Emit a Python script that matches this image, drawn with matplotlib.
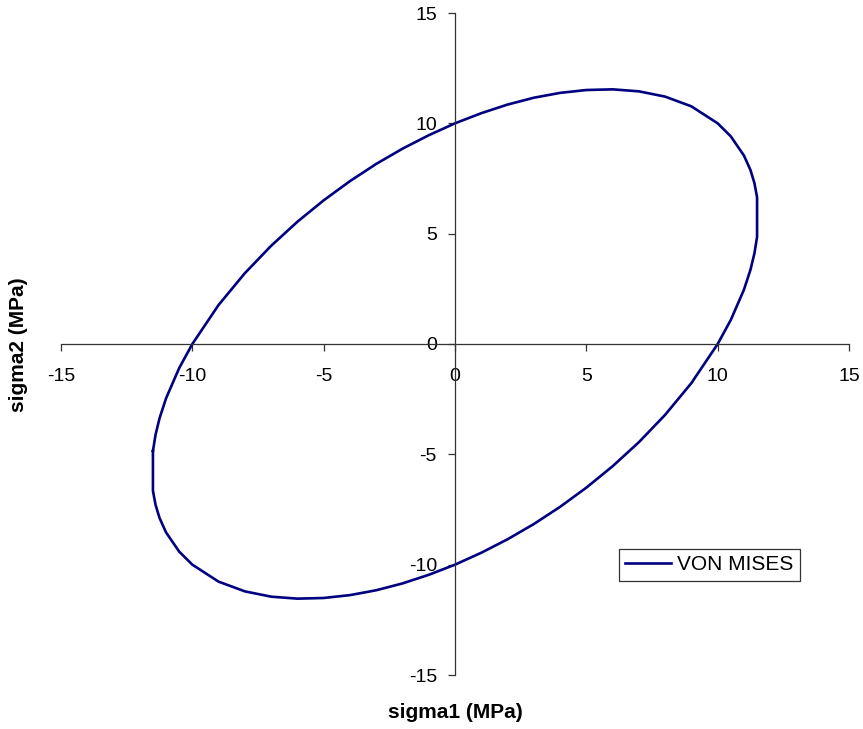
import matplotlib
matplotlib.use("Agg")
import matplotlib.pyplot as plt

plt.rcParams["font.family"] = ["Liberation Sans", "DejaVu Sans"]
plt.rcParams["axes.unicode_minus"] = False

# points: upper branch left->right, then lower branch right->left
sigma1 = [
    -11.5, -11.4, -11.25, -11, -10.5, -10, -9, -8, -7, -6, -5, -4, -3, -2, -1, 0,
    1, 2, 3, 4, 5, 6, 7, 8, 9, 10, 10.5, 11, 11.25, 11.4, 11.5,
    11.5, 11.4, 11.25, 11, 10.5, 10, 9, 8, 7, 6, 5, 4, 3, 2, 1, 0,
    -1, -2, -3, -4, -5, -6, -7, -8, -9, -10, -10.5, -11, -11.25, -11.4, -11.5, -11.5,
]
sigma2 = [
    -4.85, -4.11, -3.37, -2.46, -1.09, 0.0, 1.77, 3.21, 4.45, 5.54, 6.51, 7.38, 8.16, 8.85, 9.46, 10.0,
    10.46, 10.85, 11.16, 11.38, 11.51, 11.54, 11.45, 11.21, 10.77, 10.0, 9.41, 8.54, 7.88, 7.29, 6.65,
    4.85, 4.11, 3.37, 2.46, 1.09, 0.0, -1.77, -3.21, -4.45, -5.54, -6.51, -7.38, -8.16, -8.85, -9.46, -10.0,
    -10.46, -10.85, -11.16, -11.38, -11.51, -11.54, -11.45, -11.21, -10.77, -10.0, -9.41, -8.54, -7.88, -7.29, -6.65, -4.85,
]
ticks = [-15, -10, -5, 0, 5, 10, 15]

fig = plt.figure(figsize=(8.63, 7.29), dpi=100)
ax = fig.add_axes([61 / 863, 1 - 675 / 729, 788 / 863, 662 / 729])

line, = ax.plot(sigma1, sigma2, color="#000080", linewidth=1.9, label="VON MISES")

ax.set_xlim(-15, 15)
ax.set_ylim(-15, 15)
ax.set_xticks(ticks)
ax.set_yticks(ticks)

# axes crossing at the origin, Excel style
ax.spines["left"].set_position(("data", 0))
ax.spines["bottom"].set_position(("data", 0))
ax.spines["right"].set_visible(False)
ax.spines["top"].set_visible(False)
for s in ("left", "bottom"):
    ax.spines[s].set_color("#333333")
    ax.spines[s].set_linewidth(0.9)

ax.tick_params(axis="x", direction="out", length=5, width=0.9, color="#333333",
               labelsize=14, pad=12)
ax.tick_params(axis="y", direction="out", length=5, width=0.9, color="#333333",
               labelsize=14, pad=8)

fig.text(455 / 863, 1 - 713 / 729, "sigma1 (MPa)", ha="center", va="center",
         fontsize=15, fontweight="bold")
fig.text(18 / 863, 1 - 345 / 729, "sigma2 (MPa)", ha="center", va="center",
         rotation=90, fontsize=15, fontweight="bold")

leg = fig.legend(handles=[line], loc="upper left",
                 bbox_to_anchor=(619 / 863, 1 - 549 / 729),
                 fontsize=15, frameon=True, fancybox=False,
                 handlelength=2.2, handletextpad=0.3, borderpad=0.3,
                 borderaxespad=0)
leg.get_frame().set_edgecolor("black")
leg.get_frame().set_linewidth(0.9)

fig.savefig("out.png", dpi=100)
